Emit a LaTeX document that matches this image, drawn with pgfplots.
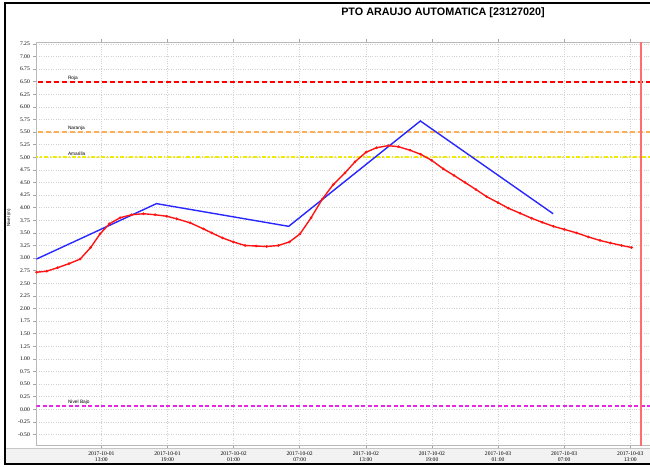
\documentclass[border=0pt]{standalone}
\usepackage{pgfplots}
\pgfplotsset{compat=1.18}
\usepackage{fontspec}
\setmainfont{Liberation Serif}
\newfontfamily\sansf{Liberation Sans}
\begin{document}
\begin{tikzpicture}[x=1pt,y=1pt]
\useasboundingbox (0,0) rectangle (650,466);
\fill[white] (0,0) rectangle (650,466);
\fill[gray!10] (6,3) rectangle (652,18);
\draw[gray!45, line width=0.8] (6,18) -- (652,18);
\begin{axis}[
  at={(33,41)}, anchor=south west,
  scale only axis, width=622, height=403,
  xmin=7.1, xmax=63.55, ymin=-0.714, ymax=7.28,
  axis line style={gray!55},
  tick style={gray!70, line width=0.5},
  tick align=outside, major tick length=3,
  xtick={13,19,25,31,37,43,49,55,61},
  xticklabels={{2017-10-01\\13:00},{2017-10-01\\19:00},{2017-10-02\\01:00},{2017-10-02\\07:00},{2017-10-02\\13:00},{2017-10-02\\19:00},{2017-10-03\\01:00},{2017-10-03\\07:00},{2017-10-03\\13:00}},
  xticklabel style={align=center, font=\fontsize{5.6}{6.2}\selectfont},
  ytick={-0.5,-0.25,0,0.25,0.5,0.75,1,1.25,1.5,1.75,2,2.25,2.5,2.75,3,3.25,3.5,3.75,4,4.25,4.5,4.75,5,5.25,5.5,5.75,6,6.25,6.5,6.75,7,7.25},
  yticklabel style={font=\fontsize{5.6}{6.2}\selectfont, /pgf/number format/.cd, fixed, fixed zerofill, precision=2},
  /pgf/number format/assume math mode=true,
  grid=major,
  major grid style={dotted, gray!35, line width=0.5},
  clip=true,
]
% thresholds
\addplot[color={rgb,255:red,255;green,0;blue,0}, line width=2.0, dash pattern=on 5pt off 3pt] coordinates {(0,6.5) (70,6.5)};
\addplot[color={rgb,255:red,255;green,175;blue,80}, line width=2.2, dash pattern=on 5pt off 3pt] coordinates {(0,5.5) (70,5.5)};
\addplot[color={rgb,255:red,240;green,235;blue,0}, line width=2.0, dash pattern=on 4pt off 2pt on 1.5pt off 2pt] coordinates {(0,5.0) (70,5.0)};
\addplot[color={rgb,255:red,230;green,40;blue,230}, line width=1.5, dash pattern=on 4pt off 2.5pt] coordinates {(0,0.07) (70,0.07)};
% current time
\addplot[color={rgb,255:red,255;green,110;blue,110}, line width=1.6] coordinates {(62.0,-1) (62.0,8)};
% forecast (blue)
\addplot[color={rgb,255:red,40;green,40;blue,255}, line width=1.4] coordinates {
(7.1,2.98) (18.0,4.08) (30.0,3.63) (41.95,5.72) (54.0,3.88)};
% observed level (red)
\addplot[color={rgb,255:red,255;green,20;blue,20}, line width=1.4, mark=*, mark size=0.5, mark options={solid}] coordinates {
(7.13,2.72) (8.04,2.74) (9.03,2.81) (10.07,2.89) (11.07,2.98) (12.03,3.21)
(12.88,3.48) (13.73,3.68) (14.70,3.80) (15.75,3.86) (16.81,3.88) (17.87,3.86)
(18.93,3.83) (19.83,3.78) (21.05,3.70) (22.26,3.58) (23.01,3.50) (24.0,3.40)
(24.98,3.32) (26.04,3.25) (27.04,3.24) (28.00,3.23) (29.06,3.25) (30.06,3.32)
(31.03,3.48) (32.03,3.80) (33.05,4.17) (34.05,4.46) (35.11,4.69) (36.02,4.91)
(37.02,5.10) (37.98,5.19) (39.04,5.23) (39.95,5.21) (41.01,5.14) (41.97,5.06)
(42.97,4.94) (44.03,4.77) (45.0,4.64) (46.00,4.50) (47.0,4.36) (47.96,4.22)
(49.0,4.10) (49.93,3.99) (51.0,3.89) (52.05,3.79) (53.0,3.71) (54.02,3.63)
(55.0,3.57) (56.13,3.50) (57.2,3.42) (58.25,3.35) (59.2,3.30) (60.21,3.25) (61.12,3.21)};
\node[anchor=south west, inner sep=0.6pt, yshift=0.6pt, font=\sansf\fontsize{4.8}{5}\selectfont] at (axis cs:9.9,6.5) {Roja};
\node[anchor=south west, inner sep=0.6pt, yshift=0.6pt, font=\sansf\fontsize{4.8}{5}\selectfont] at (axis cs:9.9,5.5) {Naranja};
\node[anchor=south west, inner sep=0.6pt, yshift=0.6pt, font=\sansf\fontsize{4.8}{5}\selectfont] at (axis cs:9.9,5.0) {Amarilla};
\node[anchor=south west, inner sep=0.6pt, yshift=0.6pt, font=\sansf\fontsize{4.8}{5}\selectfont] at (axis cs:9.9,0.07) {Nivel Bajo};
\end{axis}
\node[font=\sansf\bfseries\fontsize{10.8}{12}\selectfont] at (443,453) {PTO ARAUJO AUTOMATICA [23127020]};
\node[rotate=90, font=\sansf\fontsize{4.5}{5}\selectfont] at (9,248) {Nivel (m)};
\draw[black, line width=2] (5,2) rectangle (665,463);
\end{tikzpicture}
\end{document}
